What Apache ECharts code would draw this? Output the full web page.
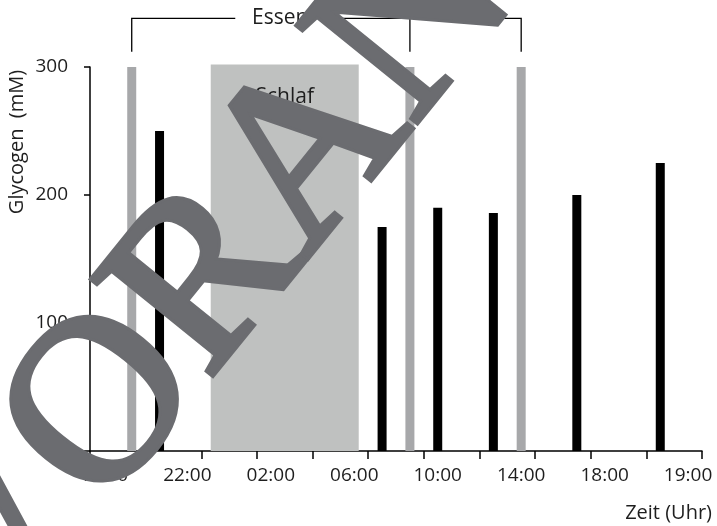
<!DOCTYPE html>
<html>
<head>
<meta charset="utf-8">
<script src="https://cdn.jsdelivr.net/npm/echarts@6/dist/echarts.min.js"></script>
<style>
  html,body{margin:0;padding:0;background:#fff;}
  #chart{width:717px;height:526px;}
</style>
</head>
<body>
<div id="chart"></div>
<script>
// Messzeitpunkte (in Achseneinheiten) und Glycogen-Werte
var messZeit = [1.25, 5.25, 6.25, 7.25, 8.75, 10.25]
var glycogen = [250, 175, 190, 186, 200, 225]
// Mahlzeiten (graue Balken)
var essenZeit = [0.75, 5.75, 7.75]
var essenWert = [300, 300, 300]
// Schlafphase: von, bis, Oberkante
var schlafVon = 2.17
var schlafBis = 4.83
var schlafOben = 302
// Klammer "Essen"
var klammerOben = 338
var klammerUnten = 312
var essenTextPos = 3.42
// Achsen
var xTicks = [0, 1, 2, 3, 4, 5, 6, 7, 8, 9, 10, 11]
var zeitLabels = ['18:00', '22:00', '02:00', '06:00', '10:00', '14:00', '18:00', '19:00']
var labelPos = [0.25, 1.75, 3.25, 4.75, 6.25, 7.75, 9.25, 10.75]

var font = '"Open Sans", sans-serif'
var txt = '#1e1e1e'

var myChart = echarts.init(document.getElementById('chart'))

var option = {
  animation: false,
  grid: { left: 90, right: 15, top: 67, bottom: 75 },
  xAxis: {
    type: 'value',
    min: 0,
    max: 11,
    interval: 1,
    axisLine: { lineStyle: { color: '#000', width: 1.5 } },
    axisTick: { show: true, length: 8, customValues: xTicks, lineStyle: { color: '#000', width: 1.5 } },
    splitLine: { show: false },
    axisLabel: {
      customValues: labelPos,
      margin: 15,
      fontSize: 19,
      fontFamily: font,
      color: txt,
      formatter: function (v) {
        var i = labelPos.indexOf(Math.round(v * 100) / 100)
        return i < 0 ? '' : zeitLabels[i]
      }
    }
  },
  yAxis: {
    type: 'value',
    min: 0,
    max: 300,
    interval: 100,
    axisLine: { show: true, lineStyle: { color: '#000', width: 1.5 } },
    axisTick: { show: true, length: 6, lineStyle: { color: '#000', width: 1.5 } },
    splitLine: { show: false },
    axisLabel: { margin: 22, fontSize: 19, fontFamily: font, color: txt }
  },
  graphic: [
    { type: 'text', x: 17, y: 142, rotation: Math.PI / 2,
      style: { text: 'Glycogen  (mM)', font: '20px ' + font, fill: txt, align: 'center', verticalAlign: 'middle' } },
    { type: 'text', x: 712, y: 513,
      style: { text: 'Zeit (Uhr)', font: '20px ' + font, fill: txt, align: 'right', verticalAlign: 'middle' } },
    // Wasserzeichen
    { type: 'text', x: -54, y: 606, rotation: 51 * Math.PI / 180, z: 100,
      style: { text: 'VORANSICHT', font: '235px "Liberation Serif"', fill: '#6b6c70',
        stroke: '#6b6c70', lineWidth: 6, align: 'left', verticalAlign: 'middle' } }
  ],
  series: [{
    // Schlaf
    type: 'custom',
    data: [[schlafVon, schlafBis, schlafOben]],
    renderItem: function (params, api) {
      var p0 = api.coord([api.value(0), api.value(2)])
      var p1 = api.coord([api.value(1), 0])
      return {
        type: 'group',
        children: [{
          type: 'rect',
          shape: { x: p0[0], y: p0[1], width: p1[0] - p0[0], height: p1[1] - p0[1] },
          style: { fill: '#bfc1c0' }
        }, {
          type: 'text',
          x: (p0[0] + p1[0]) / 2,
          y: p0[1] + 33,
          style: { text: 'Schlaf', font: '21px ' + font, fill: txt, align: 'center', verticalAlign: 'middle' }
        }]
      }
    }
  }, {
    name: 'Essen',
    type: 'bar',
    barWidth: 9,
    barGap: '-100%',
    itemStyle: { color: '#a7a8aa' },
    data: essenZeit.map(function (x, i) { return [x, essenWert[i]] })
  }, {
    name: 'Glycogen',
    type: 'bar',
    barWidth: 9,
    barGap: '-100%',
    itemStyle: { color: '#000' },
    data: messZeit.map(function (x, i) { return [x, glycogen[i]] })
  }, {
    // Klammer über den Mahlzeiten
    type: 'custom',
    data: [[0]],
    renderItem: function (params, api) {
      var top = function (x) { return api.coord([x, klammerOben]) }
      var bot = function (x) { return api.coord([x, klammerUnten]) }
      var first = essenZeit[0]
      var last = essenZeit[essenZeit.length - 1]
      var t = top(essenTextPos)
      var ls = { stroke: '#000', lineWidth: 1.3, fill: null }
      var kids = [{
        type: 'polyline',
        shape: { points: [bot(first), top(first), [t[0] - 45, t[1]]] },
        style: ls
      }, {
        type: 'polyline',
        shape: { points: [[t[0] + 45, t[1]], top(last), bot(last)] },
        style: ls
      }, {
        type: 'text',
        x: t[0], y: t[1],
        style: { text: 'Essen', font: '21px ' + font, fill: txt, align: 'center', verticalAlign: 'middle' }
      }]
      for (var i = 1; i < essenZeit.length - 1; i++) {
        kids.push({ type: 'line', shape: { x1: top(essenZeit[i])[0], y1: top(essenZeit[i])[1], x2: bot(essenZeit[i])[0], y2: bot(essenZeit[i])[1] }, style: ls })
      }
      return { type: 'group', children: kids }
    }
  }]
}
myChart.setOption(option)
</script>
</body>
</html>
